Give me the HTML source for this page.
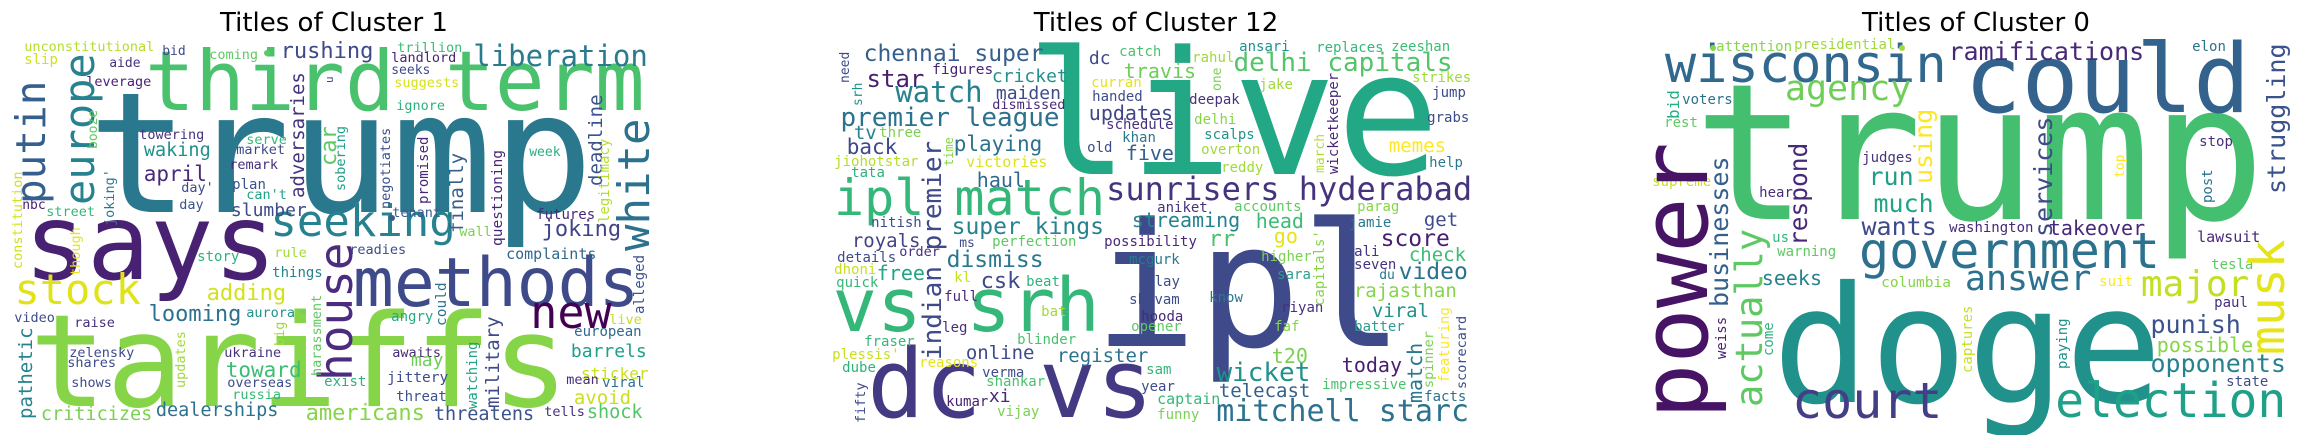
<!DOCTYPE html>
<html><head><meta charset="utf-8">
<style>
html,body{margin:0;padding:0;background:#fff;}
#root{position:relative;width:2302px;height:435px;overflow:hidden;background:#fff;}
.t{position:absolute;top:8px;font-family:"DejaVu Sans","Liberation Sans",sans-serif;font-size:26px;color:#000;white-space:nowrap;transform:translateX(-50%);line-height:1.2;}
.w{position:absolute;font-family:"DejaVu Sans Mono","Liberation Mono",monospace;line-height:1;white-space:pre;}
.v{transform-origin:0 0;transform:rotate(-90deg);}
</style></head>
<body>
<div id="root">
<div class="t" style="left:334px">Titles of Cluster 1</div>
<div class="t" style="left:1156px">Titles of Cluster 12</div>
<div class="t" style="left:1976px">Titles of Cluster 0</div>
</div>
<script>
// [text, x, baseline, size, color]  horizontal words
const h1 = [
["trump",98,212,168,"#2a788e"],["third term",150,110,83,"#4ac16d"],["says",30,280,105,"#482173"],
["tariffs",37,407,128,"#86d549"],["methods",357,308,68,"#3e4a89"],["new",533,328,45,"#440154"],
["stock",17,305,42,"#dfe318"],["seeking",273,237,44,"#26828e"],["liberation",475,67,29,"#297b8e"],
["rushing",282,60,22,"#3e4a89"],["americans",307,422,22,"#86d549"],
["unconstitutional",25,52,13.5,"#b5de2b"],["slip",25,65,14,"#d0e11c"],["bid",163,56,13,"#3e4a89"],
["aide",110,68,13,"#46337e"],["leverage",87,87,13.5,"#481f70"],["coming",210,60,13.5,"#5ec962"],
["trillion",398,53,13.5,"#3cbc75"],["landlord",392,63,13.5,"#482475"],["seeks",392,75,13,"#3e4c8a"],
["suggests",395,88,13.5,"#d8e219"],["ignore",397,111,13.5,"#2db27d"],["week",530,157,13,"#29af7f"],
["tenant",393,218,13.5,"#365d8d"],["futures",537,220,14,"#482878"],["wall",460,237,13.5,"#7ad151"],
["joking",543,238,22,"#414487"],["readies",350,255,13.5,"#3e4c8a"],["complaints",507,260,15,"#31688e"],
["angry",392,322,14,"#25ab82"],["live",610,325,13.5,"#c2df23"],["european",575,337,14,"#31688e"],
["barrels",572,358,18,"#1f9e89"],["awaits",393,358,13.5,"#482878"],["may",412,367,18,"#6ece58"],
["sticker",582,380,16,"#c8e020"],["exist",325,387,14,"#2db27d"],["jittery",388,383,14.5,"#3e4c8a"],
["mean",567,385,13.5,"#472f7d"],["viral",603,388,14,"#2c728e"],["avoid",575,405,19,"#c8e020"],
["threat",397,402,14,"#3b528b"],["threatens",435,422,18.5,"#3b528b"],["tells",545,417,13.5,"#472f7d"],
["shock",588,420,18.5,"#52c569"],["towering",140,140,13.5,"#46337e"],["serve",247,145,13.5,"#35b779"],
["market",237,155,13.5,"#3e4a89"],["waking",145,158,18.5,"#21918c"],["remark",230,170,13.5,"#472f7d"],
["april",145,182,21,"#482878"],["plan",233,190,14,"#3b528b"],["day'",182,193,13.5,"#3e4c8a"],
["can't",247,200,13.5,"#20a386"],["day",180,210,13.5,"#3b528b"],["slumber",232,217,18,"#3e4a89"],
["nbc",23,210,13,"#481f70"],["street",47,217,13.5,"#35b779"],["story",198,262,14,"#2db27d"],
["rule",275,258,13.5,"#a0da39"],["things",273,278,14,"#26828e"],["adding",208,302,22,"#d2e21b"],
["looming",150,323,22,"#2c728e"],["aurora",247,318,13.5,"#21918c"],["video",15,323,13.5,"#3e4c8a"],
["raise",75,328,13.5,"#472f7d"],["zelensky",70,358,13.5,"#3e4a89"],["ukraine",225,358,13.5,"#46337e"],
["shares",68,368,13.5,"#3e4c8a"],["toward",227,378,21,"#3cbc75"],["shows",72,388,13.5,"#3e4c8a"],
["overseas",228,388,13.5,"#3e4c8a"],["russia",233,400,13.5,"#35b779"],["dealerships",157,418,18.5,"#2c728e"],
["criticizes",42,422,18.5,"#7ad151"]
];
const h2 = [
["live",1036,175,172,"#22a884"],["ipl",1104,347,172,"#3e4a89"],["vs srh",837,332,74,"#35b779"],
["dc vs",873,418,95,"#443983"],["ipl match",837,215,50,"#35b779"],["sunrisers hyderabad",1108,200,32,"#46337e"],
["chennai super",865,62,23,"#355f8d"],["star",868,87,24,"#481f70"],["watch",897,103,29,"#26828e"],
["premier league",842,127,26,"#2c728e"],["figures",933,75,14.5,"#482475"],["cricket",993,83,18,"#21918c"],
["maiden",997,100,18,"#3e4a89"],["dismissed",993,110,13.5,"#482878"],["dc",1090,65,18,"#3e4a89"],
["catch",1120,57,14,"#4ac16d"],["travis",1125,78,20,"#6ece58"],["curran",1092,88,14,"#e5e419"],
["handed",1093,102,14,"#3e4c8a"],["updates",1090,120,20,"#404688"],["schedule",1107,130,14,"#472f7d"],
["khan",1123,143,14,"#2a788e"],["old",1088,153,14,"#3e4c8a"],["five",1127,160,20,"#355f8d"],
["tv",855,140,19,"#26828e"],["three",880,138,14,"#7ad151"],["back",848,155,21,"#3e4a89"],
["playing",955,152,21,"#2c728e"],["jiohotstar",835,167,14,"#b5de2b"],["victories",967,168,15,"#dde318"],
["tata",852,178,14,"#2db27d"],["haul",978,187,20,"#31688e"],["nitish",872,228,14,"#3e4c8a"],
["super kings",953,235,23,"#26828e"],["royals",853,248,19,"#414487"],["ms",960,248,13,"#3e4c8a"],
["perfection",993,247,14,"#5ec962"],["details",838,263,14,"#3e4c8a"],["order",900,257,13.5,"#472f7d"],
["dismiss",948,268,23,"#2a788e"],["dhoni",835,275,14,"#c8e020"],["free",878,280,20,"#21a585"],
["quick",837,288,14,"#35b779"],["kl",955,283,14,"#c8e020"],["csk",982,290,22,"#3e4a89"],
["beat",1027,287,14,"#2db27d"],["full",945,302,14,"#482878"],["bat",1042,317,14,"#a0da39"],
["leg",943,333,14,"#472f7d"],["fraser",865,347,14,"#35b779"],["blinder",1018,345,14,"#4ac16d"],
["plessis'",833,360,14,"#c8e020"],["online",967,360,19,"#3e4a89"],["register",1058,363,19,"#2c728e"],
["reasons",920,368,14,"#e5e419"],["dube",843,373,14,"#2db27d"],["verma",983,378,14,"#3e4c8a"],
["shankar",987,387,14,"#4ac16d"],["xi",990,403,18,"#482878"],["kumar",947,407,14,"#481f70"],
["vijay",998,417,14,"#7ad151"],
["delhi capitals",1235,72,26,"#52c569"],["rahul",1193,63,14,"#a0da39"],["ansari",1240,52,14,"#21918c"],
["replaces",1317,53,14,"#35b779"],["zeeshan",1392,52,14,"#3cbc75"],["jake",1260,90,14,"#a0da39"],
["strikes",1413,83,14,"#a0da39"],["jump",1433,98,14,"#3e4c8a"],["deepak",1190,105,14,"#46337e"],
["delhi",1195,125,14,"#86d549"],["grabs",1428,123,14,"#3e4c8a"],["scalps",1205,140,14,"#21918c"],
["memes",1390,153,19,"#fde725"],["overton",1202,155,14,"#a0da39"],["help",1430,168,14,"#2a788e"],
["reddy",1222,173,14,"#a0da39"],["aniket",1158,213,14,"#46337e"],["accounts",1235,212,14,"#5ec962"],
["parag",1358,212,14,"#86d549"],["streaming",1133,227,20,"#26828e"],["head",1257,228,20,"#3cbc75"],
["get",1425,227,19,"#3e4c8a"],["jamie",1350,228,14,"#2a788e"],["rr",1210,248,22,"#4ac16d"],
["go",1275,243,20,"#e5e419"],["score",1382,247,23,"#481f70"],["possibility",1105,247,14,"#482878"],
["ali",1355,257,14,"#46337e"],["check",1410,262,19,"#3cbc75"],["higher",1262,262,14,"#7ad151"],
["mcgurk",1130,265,14,"#2a788e"],["seven",1355,270,14,"#46337e"],["video",1400,280,23,"#2c728e"],
["du",1380,280,13,"#2a788e"],["sara",1278,280,14,"#2a9d8f"],["play",1147,287,14,"#3e4c8a"],
["rajasthan",1355,298,19,"#86d549"],["know",1210,303,14,"#2a788e"],["shivam",1130,305,14,"#3e4c8a"],
["riyan",1282,313,14,"#472f7d"],["viral",1373,318,19,"#21918c"],["hooda",1142,322,14,"#482878"],
["opener",1132,332,14,"#5ec962"],["faf",1275,332,14,"#86d549"],["batter",1355,332,14,"#2a9d8f"],
["t20",1273,363,20,"#7ad151"],["today",1343,372,20,"#481f70"],["sam",1147,375,14,"#35b779"],
["wicket",1218,382,26,"#21918c"],["impressive",1323,390,14,"#4ac16d"],["year",1142,392,14,"#3e4c8a"],
["telecast",1220,398,19,"#355f8d"],["facts",1425,402,14,"#2c728e"],["captain",1158,405,15,"#35b779"],
["mitchell starc",1218,422,30,"#2c728e"],["funny",1158,420,14,"#7ad151"]
];
const h3 = [
["trump",1705,220,190,"#44bf70"],["doge",1782,403,162,"#21918c"],["could",1970,113,95,"#33638d"],
["wisconsin",1668,83,52,"#31688e"],["government",1862,268,50,"#2c728e"],["court",1795,418,50,"#433e85"],
["election",2058,418,48,"#1fa088"],["agency",1787,102,35,"#6ece58"],["answer",1967,292,35,"#2c728e"],
["major",2143,297,36,"#c2df23"],["ramifications",1950,60,25,"#482878"],
["attention",1717,52,14,"#86d549"],["presidential",1795,50,14,"#a0da39"],["elon",2193,52,14,"#2c728e"],
["voters",1683,105,14,"#2c728e"],["rest",1665,128,14,"#5ec962"],["supreme",1653,187,14,"#c8e020"],
["hear",1760,198,14,"#472f7d"],["us",1773,243,14,"#35b779"],["warning",1778,257,14,"#5ec962"],
["seeks",1763,285,20,"#26828e"],["judges",1863,163,14,"#46337e"],["run",1870,185,25,"#1f9e89"],
["much",1875,212,25,"#20a386"],["wants",1863,235,25,"#3e4a89"],["washington",1950,233,14,"#482878"],
["columbia",1882,288,14.5,"#86d549"],["takeover",2050,235,20,"#482878"],["stop",2200,147,14,"#472f7d"],
["lawsuit",2198,243,15,"#482878"],["tesla",2212,270,14,"#5ec962"],["suit",2100,287,14,"#fde725"],
["paul",2215,308,14,"#472f7d"],["punish",2152,333,25,"#3b528b"],["possible",2158,352,20,"#86d549"],
["opponents",2152,372,25,"#26828e"],["state",2227,387,14,"#3e4c8a"]
];
// [text, baseline-x, start-y, size, color]  vertical words
const v1 = [
["putin",46,202,41,"#355f8d"],["europe",95,202,42,"#26828e"],["house",352,378,46,"#4b2c7f"],
["white",650,248,44,"#2c728e"],["deadline",603,185,19,"#3b528b"],["legitimacy",610,222,14,"#b5de2b"],
["questioning",503,245,14.5,"#482475"],["promised",429,203,14,"#482878"],["negotiates",391,208,13.5,"#3b528b"],
["sobering",346,190,13.5,"#1fa088"],["finally",464,232,19,"#355f8d"],["alleged",645,313,14,"#3b528b"],
["could",447,325,14.5,"#2c728e"],["military",500,407,19,"#3e4a89"],["watching",478,408,14,"#20a386"],
["u",333,82,11,"#3e4c8a"],["booze",98,148,13,"#5ec962"],["adversaries",305,197,19,"#46337e"],
["car",338,165,22,"#5ec962"],["joking'",115,225,13.5,"#2a788e"],["constitution",23,268,13.5,"#d0e11c"],
["though",81,275,13.5,"#e5e419"],["harassment",322,375,13.5,"#5ec962"],["big",285,345,13.5,"#a0da39"],
["pathetic",33,418,19,"#26828e"],["updates",186,387,13.5,"#a0da39"]
];
const v2 = [
["need",850,82,13,"#3e4a89"],["srh",863,105,13,"#21918c"],["time",953,165,12,"#86d549"],
["indian premier",942,358,26,"#3e4a89"],["fifty",866,422,13.5,"#3e4c8a"],["one",1222,90,13,"#7ad151"],
["wicketkeeper",1339,173,14,"#482878"],["march",1325,172,13,"#b5de2b"],["capitals'",1325,305,14,"#86d549"],
["featuring",1450,382,14,"#fde725"],["scorecard",1467,388,13.5,"#3e4c8a"],["spinner",1434,387,13.5,"#7ad151"],
["match",1422,402,20,"#2a788e"]
];
const v3 = [
["struggling",2285,192,25,"#3b528b"],["bid",1680,118,16,"#26ad81"],["power",1708,413,92,"#471365"],
["businesses",1728,305,25,"#355f8d"],["actually",1762,405,37,"#5ec962"],["weiss",1727,358,14,"#481f70"],
["come",1774,355,14,"#2db27d"],["respond",1808,245,24.5,"#482878"],["using",1932,182,25,"#fde725"],
["captures",1973,372,14,"#c8e020"],["services",2052,235,25,"#3e4a89"],["top",2125,177,13,"#fde725"],
["post",2213,202,14,"#2c728e"],["musk",2285,352,48,"#e5e419"],["paying",2068,368,14,"#21918c"]
];
const dots = [[267,53,"#5ec962"],[303,312,"#7ad151"],[392,218,"#365d8d"],[1713,48,"#86d549"],[1902,48,"#a0da39"]];

const root = document.getElementById('root');
function slug(s){return s.replace(/[^a-z0-9]+/gi,'-').replace(/^-|-$/g,'').toLowerCase();}
function addH(list, panel){
  for (const [txt,x,b,s,c] of list){
    const el = document.createElement('div');
    el.className = 'w';
    el.textContent = txt;
    el.style.fontSize = s+'px';
    el.style.color = c;
    el.style.left = (x - 0.06*s)+'px';
    el.style.top = (b - 0.846*s)+'px';
    
    
    root.appendChild(el);
  }
}
function addV(list, panel){
  for (const [txt,xb,yb,s,c] of list){
    const el = document.createElement('div');
    el.className = 'w v';
    el.textContent = txt;
    el.style.fontSize = s+'px';
    el.style.color = c;
    el.style.left = (xb - 0.846*s)+'px';
    el.style.top = (yb + 0.06*s)+'px';
    
    
    root.appendChild(el);
  }
}
addH(h1,'cluster-1'); addV(v1,'cluster-1');
addH(h2,'cluster-12'); addV(v2,'cluster-12');
addH(h3,'cluster-0'); addV(v3,'cluster-0');
for (const [x,y,c] of dots){
  const d = document.createElement('div');
  d.style.cssText = 'position:absolute;width:6px;height:6px;border-radius:50%;left:'+(x-3)+'px;top:'+(y-3)+'px;background:'+c;
  
  
  root.appendChild(d);
}
</script>
</body></html>
